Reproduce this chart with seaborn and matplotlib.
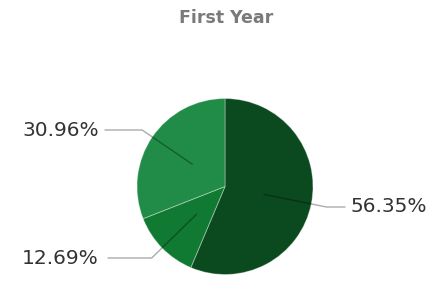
import numpy as np
import matplotlib.pyplot as plt
import seaborn as sns

# Data
labels = ['56.35%', '12.69%', '30.96%']
values = [56.35, 12.69, 30.96]
colors = ['#0b4a1f', '#107a32', '#208c47']

sns.set_style('white')
plt.rcParams['font.family'] = ['DejaVu Sans']

W, H = 440, 281
fig = plt.figure(figsize=(W / 100, H / 100), dpi=100)
ax = fig.add_axes([0, 0, 1, 1])

# pie centre / radius in pixels
cx, cy, r = 225, 186.5, 88

wedges, _ = ax.pie(values, colors=colors, startangle=90, counterclock=False,
                   radius=1, center=(0, 0), frame=True,
                   wedgeprops=dict(edgecolor=(1, 1, 1, 0.35), linewidth=0.7))
ax.set_xlim(-cx / r, (W - cx) / r)
ax.set_ylim(-(H - cy) / r, cy / r)
ax.axis('off')

# label anchors (pixel rows of labels)
label_y = {'56.35%': 207, '12.69%': 258, '30.96%': 130}
line_end = {'56.35%': 345, '12.69%': 108, '30.96%': 105}
text_x = {'56.35%': 351, '12.69%': 99, '30.96%': 99}

for w, lab in zip(wedges, labels):
    ang = np.deg2rad((w.theta1 + w.theta2) / 2)
    ly = (cy - label_y[lab]) / r
    x0, y0 = 0.45 * np.cos(ang), 0.45 * np.sin(ang)
    rr = ly / np.sin(ang)
    x1, y1 = rr * np.cos(ang), ly
    x2 = (line_end[lab] - cx) / r
    ax.plot([x0, x1, x2], [y0, y1, ly], color='black', alpha=0.33, lw=1)
    ha = 'left' if np.cos(ang) > 0 else 'right'
    ax.text((text_x[lab] - cx) / r, ly, lab, ha=ha, va='center',
            fontsize=14.5, color='#333333')

fig.text(226 / W, 1 - 18 / H, 'First Year', ha='center', va='center',
         fontsize=12.5, fontweight='bold', color='#7a7a7a')

fig.savefig('out.png', dpi=100)
